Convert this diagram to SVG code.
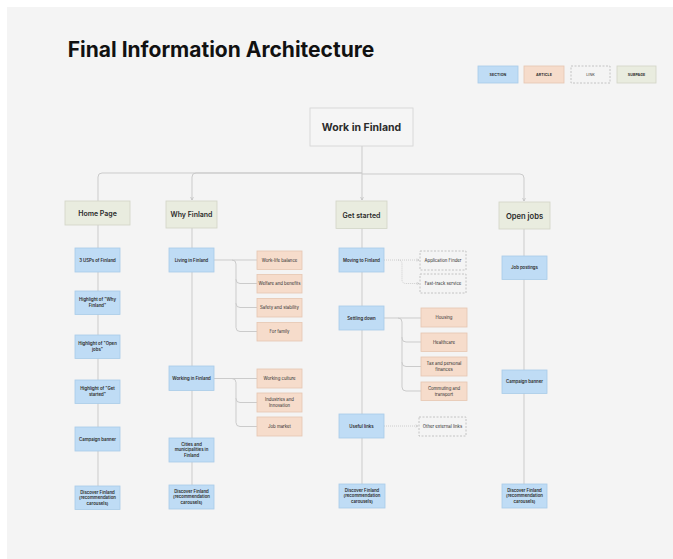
<svg xmlns="http://www.w3.org/2000/svg" width="673" height="559" viewBox="0 0 673 559">
  <style>
    text { font-family: Inter, "Noto Sans", "Liberation Sans", sans-serif; fill: #2b2b2b; text-anchor: middle; }
    .section rect { fill: #bfdcf5; stroke: #a9cbe8; stroke-width: 0.8; }
    .article rect { fill: #f6dccb; stroke: #e6c6b1; stroke-width: 0.8; }
    .link rect { fill: #f4f4f4; stroke: #b8b8b8; stroke-width: 0.8; stroke-dasharray: 2 1.5; }
    .subpage rect { fill: #e9ecdf; stroke: #d2d5c6; stroke-width: 0.8; }
    .root rect { fill: #f5f5f5; stroke: #d3d3d3; stroke-width: 0.8; }
    .section text { font-size: 4.3px; font-weight: 600; }
    .article text, .link text { font-size: 4.3px; font-weight: 400; }
    .subpage text { font-size: 7px; font-weight: 600; }
    .legend text { font-size: 3.6px; font-weight: 700; letter-spacing: 0.1px; }
    .wire { fill: none; stroke: #cbcbcb; stroke-width: 1; }
    .dash { fill: none; stroke: #c4c4c4; stroke-width: 0.8; stroke-dasharray: 1 1; }
  </style>
  <defs>
    <marker id="tip" viewBox="0 0 6 6" refX="5" refY="3" markerWidth="4" markerHeight="4" orient="auto">
      <path d="M0.5 0.8 L5 3 L0.5 5.2" fill="none" stroke="#bdbdbd" stroke-width="1"/>
    </marker>
  </defs>

  <!-- canvas -->
  <rect x="0" y="0" width="673" height="559" fill="#ffffff"/>
  <rect x="7" y="7" width="666" height="552" fill="#f4f4f4"/>

  <text x="221" y="57" style="font-size:21px;font-weight:700;fill:#111">Final Information Architecture</text>

  <!-- legend -->
  <g id="legend" class="legend">
    <g class="section"><rect x="478" y="66" width="40" height="17"/><text x="498" y="75.8">SECTION</text></g>
    <g class="article"><rect x="524" y="66" width="40" height="17"/><text x="544" y="75.8">ARTICLE</text></g>
    <g class="link"><rect x="571" y="66" width="39" height="17"/><text x="590.5" y="75.8" style="font-weight:400">LINK</text></g>
    <g class="subpage"><rect x="617" y="66" width="39" height="17"/><text x="636.5" y="75.8">SUBPAGE</text></g>
  </g>

  <!-- connectors -->
  <g id="connectors">
    <!-- root to top-level pages -->
    <path class="wire" d="M362 146 V173"/>
    <path class="wire" d="M362 173 H102 Q98 173 98 177 V201"/>
    <path class="wire" d="M362 173 H196 Q192 173 192 177 V200" marker-end="url(#tip)"/>
    <path class="wire" d="M362 173 V200" marker-end="url(#tip)"/>
    <path class="wire" d="M362 174 H520 Q524 174 524 178 V201" marker-end="url(#tip)"/>

    <!-- column spines -->
    <path class="wire" d="M98 225 V486"/>
    <path class="wire" d="M192 228 V485"/>
    <path class="wire" d="M362 228 V484"/>
    <path class="wire" d="M524 229 V484"/>

    <!-- Living in Finland -> articles -->
    <path class="wire" d="M214 260 H257"/>
    <path class="wire" d="M232 260 Q236 260 236 264 V279.5 Q236 283.5 240 283.5 H257"/>
    <path class="wire" d="M236 279 V303.5 Q236 307.5 240 307.5 H257"/>
    <path class="wire" d="M236 303 V327.5 Q236 331.5 240 331.5 H257"/>

    <!-- Working in Finland -> articles -->
    <path class="wire" d="M214 378.5 H257"/>
    <path class="wire" d="M232 378.5 Q236 378.5 236 382.5 V398.5 Q236 402.5 240 402.5 H257"/>
    <path class="wire" d="M236 398 V422.5 Q236 426.5 240 426.5 H257"/>

    <!-- Moving to Finland -> links -->
    <path class="dash" d="M384 260 H419" marker-end="url(#tip)"/>
    <path class="dash" d="M398 260 Q402 260 402 264 V279.5 Q402 283.5 406 283.5 H419" marker-end="url(#tip)"/>

    <!-- Settling down -> articles -->
    <path class="wire" d="M384 318 H421"/>
    <path class="wire" d="M398 318 Q402 318 402 322 V338 Q402 342 406 342 H421"/>
    <path class="wire" d="M402 337 V362.5 Q402 366.5 406 366.5 H421"/>
    <path class="wire" d="M402 362 V387 Q402 391 406 391 H421"/>

    <!-- Useful links -> external links -->
    <path class="dash" d="M384 426 H418" marker-end="url(#tip)"/>
  </g>

  <!-- root -->
  <g id="work-in-finland" class="root">
    <rect x="310" y="108" width="103" height="38"/>
    <text x="361.5" y="131" style="font-size:10.5px;font-weight:700">Work in Finland</text>
  </g>

  <!-- top-level pages -->
  <g id="home-page" class="subpage"><rect x="65" y="201" width="65" height="24"/><text x="97.5" y="215.5">Home Page</text></g>
  <g id="why-finland" class="subpage"><rect x="166" y="201" width="51" height="27"/><text x="191.5" y="217">Why Finland</text></g>
  <g id="get-started" class="subpage"><rect x="336" y="201" width="51" height="27.5"/><text x="361.5" y="217.5">Get started</text></g>
  <g id="open-jobs" class="subpage"><rect x="499" y="202" width="51" height="27"/><text x="524.5" y="218.5" style="font-size:7.6px">Open jobs</text></g>

  <!-- Home Page column -->
  <g id="hp-usps" class="section"><rect x="75" y="248" width="45" height="24"/><text x="97.5" y="261.5">3 USPs of Finland</text></g>
  <g id="hp-why" class="section"><rect x="75" y="291" width="45" height="23.5"/><text x="97.5" y="301"><tspan x="97.5">Highlight of "Why</tspan><tspan x="97.5" dy="5.6">Finland"</tspan></text></g>
  <g id="hp-jobs" class="section"><rect x="75" y="335" width="45" height="23.5"/><text x="97.5" y="345"><tspan x="97.5">Highlight of "Open</tspan><tspan x="97.5" dy="5.6">jobs"</tspan></text></g>
  <g id="hp-started" class="section"><rect x="75" y="380" width="45" height="23.5"/><text x="97.5" y="390"><tspan x="97.5">Highlight of "Get</tspan><tspan x="97.5" dy="5.6">started"</tspan></text></g>
  <g id="hp-campaign" class="section"><rect x="75" y="427" width="45" height="24"/><text x="97.5" y="440.5">Campaign banner</text></g>
  <g id="hp-discover" class="section"><rect x="75" y="486" width="45" height="23.5"/><text x="97.5" y="493.5"><tspan x="97.5">Discover Finland</tspan><tspan x="97.5" dy="5.6">(recommendation</tspan><tspan x="97.5" dy="5.6">carousels)</tspan></text></g>

  <!-- Why Finland column -->
  <g id="wf-living" class="section"><rect x="169" y="248" width="45" height="24"/><text x="191.5" y="261.5">Living in Finland</text></g>
  <g id="wf-worklife" class="article"><rect x="257" y="251" width="45" height="18.5"/><text x="279.5" y="261.8">Work-life balance</text></g>
  <g id="wf-welfare" class="article"><rect x="257" y="274.5" width="45" height="18.5"/><text x="279.5" y="285.3">Welfare and benefits</text></g>
  <g id="wf-safety" class="article"><rect x="257" y="298.5" width="45" height="18.5"/><text x="279.5" y="309.3">Safety and stability</text></g>
  <g id="wf-family" class="article"><rect x="257" y="322.5" width="45" height="18.5"/><text x="279.5" y="333.3">For family</text></g>
  <g id="wf-working" class="section"><rect x="169" y="366" width="45" height="24.5"/><text x="191.5" y="379.8">Working in Finland</text></g>
  <g id="wf-culture" class="article"><rect x="257" y="369" width="45" height="19"/><text x="279.5" y="380">Working culture</text></g>
  <g id="wf-industries" class="article"><rect x="257" y="393" width="45" height="19"/><text x="279.5" y="401.3"><tspan x="279.5">Industries and</tspan><tspan x="279.5" dy="5.6">Innovation</tspan></text></g>
  <g id="wf-jobmarket" class="article"><rect x="257" y="417" width="45" height="19"/><text x="279.5" y="428">Job market</text></g>
  <g id="wf-cities" class="section"><rect x="169" y="438" width="45" height="24"/><text x="191.5" y="445.5"><tspan x="191.5">Cities and</tspan><tspan x="191.5" dy="5.8">municipalities in</tspan><tspan x="191.5" dy="5.8">Finland</tspan></text></g>
  <g id="wf-discover" class="section"><rect x="169" y="485" width="45" height="24"/><text x="191.5" y="492.5"><tspan x="191.5">Discover Finland</tspan><tspan x="191.5" dy="5.8">(recommendation</tspan><tspan x="191.5" dy="5.8">carousels)</tspan></text></g>

  <!-- Get started column -->
  <g id="gs-moving" class="section"><rect x="339" y="248" width="45" height="24"/><text x="361.5" y="261.5">Moving to Finland</text></g>
  <g id="gs-appfinder" class="link"><rect x="420" y="251" width="46" height="19"/><text x="443" y="262">Application Finder</text></g>
  <g id="gs-fasttrack" class="link"><rect x="420" y="274" width="46" height="19"/><text x="443" y="285">Fast-track service</text></g>
  <g id="gs-settling" class="section"><rect x="339" y="306" width="45" height="24"/><text x="361.5" y="319.5">Settling down</text></g>
  <g id="gs-housing" class="article"><rect x="421" y="308" width="46" height="19"/><text x="444" y="319">Housing</text></g>
  <g id="gs-healthcare" class="article"><rect x="421" y="333" width="46" height="18.5"/><text x="444" y="343.8">Healthcare</text></g>
  <g id="gs-tax" class="article"><rect x="421" y="357" width="46" height="19"/><text x="444" y="365.3"><tspan x="444">Tax and personal</tspan><tspan x="444" dy="5.6">finances</tspan></text></g>
  <g id="gs-commuting" class="article"><rect x="421" y="382" width="46" height="18.5"/><text x="444" y="390"><tspan x="444">Commuting and</tspan><tspan x="444" dy="5.6">transport</tspan></text></g>
  <g id="gs-useful" class="section"><rect x="339" y="414" width="45" height="24"/><text x="361.5" y="427.5">Useful links</text></g>
  <g id="gs-external" class="link"><rect x="419" y="417" width="47" height="19"/><text x="442.5" y="428">Other external links</text></g>
  <g id="gs-discover" class="section"><rect x="339" y="484" width="46" height="24"/><text x="362" y="491.5"><tspan x="362">Discover Finland</tspan><tspan x="362" dy="5.8">(recommendation</tspan><tspan x="362" dy="5.8">carousels)</tspan></text></g>

  <!-- Open jobs column -->
  <g id="oj-postings" class="section"><rect x="502" y="256" width="45" height="23.5"/><text x="524.5" y="269.3">Job postings</text></g>
  <g id="oj-campaign" class="section"><rect x="502" y="370" width="45" height="23.5"/><text x="524.5" y="383.3">Campaign banner</text></g>
  <g id="oj-discover" class="section"><rect x="502" y="484" width="45" height="24"/><text x="524.5" y="491.5"><tspan x="524.5">Discover Finland</tspan><tspan x="524.5" dy="5.8">(recommendation</tspan><tspan x="524.5" dy="5.8">carousels)</tspan></text></g>
</svg>
